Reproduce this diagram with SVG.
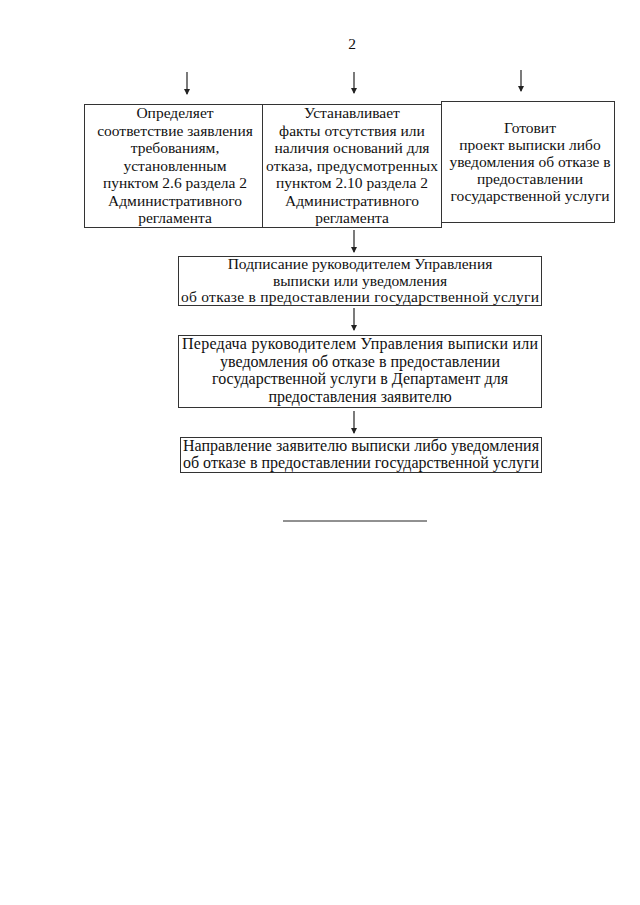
<svg xmlns="http://www.w3.org/2000/svg" width="640" height="905" viewBox="0 0 640 905">
<style>
.box{fill:#fff;stroke:#333;stroke-width:1}
.t{font-family:"Liberation Serif","Times New Roman",serif;font-size:15.5px;fill:#111;text-anchor:middle}
.b{font-size:16px}
.c{stroke:#222;stroke-width:1.2;fill:none;marker-end:url(#ah)}
</style>
<defs>
<marker id="ah" markerWidth="6" markerHeight="8" refX="5" refY="3" orient="auto" markerUnits="userSpaceOnUse" viewBox="0 0 6 8">
<path d="M0,0 L6,3 L0,6 Z" fill="#222"/>
</marker>
</defs>
<rect width="640" height="905" fill="#fff"/>
<text class="t" x="352" y="49">2</text>
<g id="connectors">
<line class="c" x1="187" y1="72" x2="187" y2="94"/>
<line class="c" x1="354" y1="72" x2="354" y2="93"/>
<line class="c" x1="521" y1="70" x2="521" y2="91"/>
<line class="c" x1="354" y1="230" x2="354" y2="252"/>
<line class="c" x1="354" y1="308" x2="354" y2="330"/>
<line class="c" x1="354" y1="411" x2="354" y2="433"/>
</g>
<g id="n1">
<rect class="box" x="84.5" y="104.5" width="178" height="123"/>
<text class="t" x="175" y="118">Определяет</text>
<text class="t" x="175" y="135.5">соответствие заявления</text>
<text class="t" x="175" y="153">требованиям,</text>
<text class="t" x="175" y="170.5">установленным</text>
<text class="t" x="175" y="188">пунктом 2.6 раздела 2</text>
<text class="t" x="175" y="205.5">Административного</text>
<text class="t" x="175" y="223">регламента</text>
</g>
<g id="n2">
<rect class="box" x="262.5" y="104.5" width="179" height="123"/>
<text class="t" x="352" y="118">Устанавливает</text>
<text class="t" x="352" y="135.5">факты отсутствия или</text>
<text class="t" x="352" y="153">наличия оснований для</text>
<text class="t" x="352" y="170.5" textLength="172">отказа, предусмотренных</text>
<text class="t" x="352" y="188">пунктом 2.10 раздела 2</text>
<text class="t" x="352" y="205.5">Административного</text>
<text class="t" x="352" y="223">регламента</text>
</g>
<g id="n3">
<rect class="box" x="441.5" y="101.5" width="173" height="121"/>
<text class="t" x="530" y="133">Готовит</text>
<text class="t" x="530" y="150">проект выписки либо</text>
<text class="t" x="530" y="167">уведомления об отказе в</text>
<text class="t" x="530" y="184">предоставлении</text>
<text class="t" x="530" y="201">государственной услуги</text>
</g>
<g id="n4">
<rect class="box" x="178.5" y="256.5" width="363" height="49"/>
<text class="t" x="360" y="269">Подписание руководителем Управления</text>
<text class="t" x="360" y="285.5">выписки или уведомления</text>
<text class="t" x="360" y="302" textLength="358">об отказе в предоставлении государственной услуги</text>
</g>
<g id="n5">
<rect class="box" x="178.5" y="335.5" width="363" height="72"/>
<text class="t b" x="360" y="349" textLength="356">Передача руководителем Управления выписки или</text>
<text class="t b" x="360" y="366.5">уведомления об отказе в предоставлении</text>
<text class="t b" x="360" y="384">государственной услуги в Департамент для</text>
<text class="t b" x="360" y="401.5">предоставления заявителю</text>
</g>
<g id="n6">
<rect class="box" x="180.5" y="437.5" width="361" height="35"/>
<text class="t b" x="361" y="451" textLength="356">Направление заявителю выписки либо уведомления</text>
<text class="t b" x="361" y="468" textLength="356">об отказе в предоставлении государственной услуги</text>
</g>
<line x1="283" y1="521" x2="427" y2="521" stroke="#222" stroke-width="1"/>
</svg>
